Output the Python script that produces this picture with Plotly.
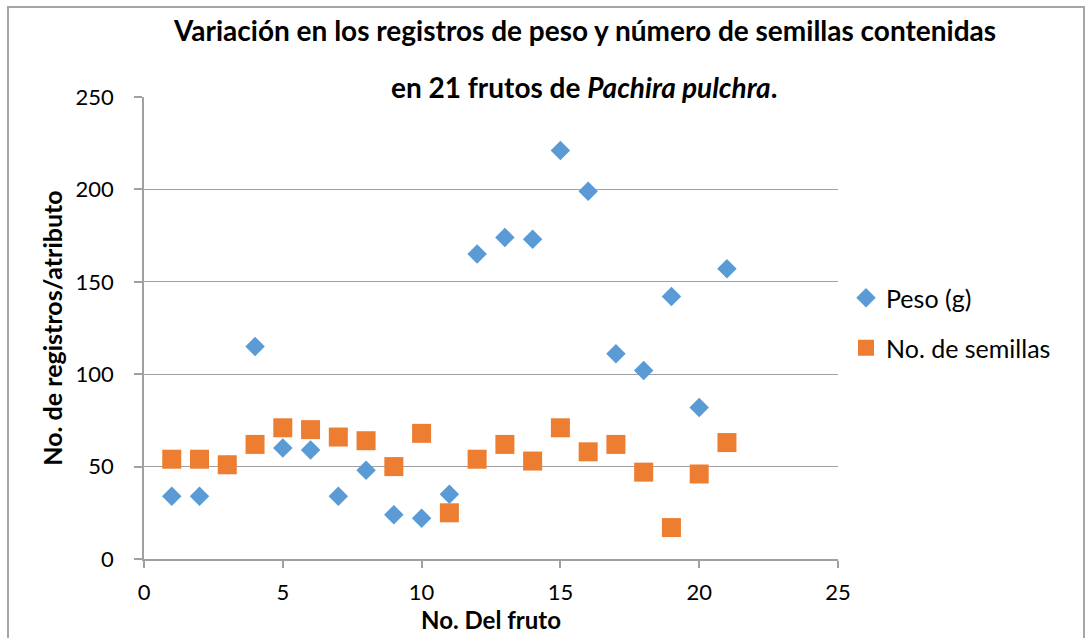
import plotly.graph_objects as go

fruto = list(range(1, 22))
peso = [34, 34, 51, 115, 60, 59, 34, 48, 24, 22, 35, 165, 174, 173, 221, 199, 111, 102, 142, 82, 157]
semillas = [54, 54, 51, 62, 71, 70, 66, 64, 50, 68, 25, 54, 62, 53, 71, 58, 62, 47, 17, 46, 63]

FONT = "Lato, Carlito, 'Open Sans', sans-serif"
W, H = 1086, 638
L, R, T, B = 144, 838, 97, 559
PW, PH = R - L, B - T

fig = go.Figure()
fig.add_trace(go.Scatter(x=fruto, y=peso, mode="markers", name="Peso (g)", legend="legend",
                         marker=dict(symbol="diamond", size=15, color="#5B9BD5")))
fig.add_trace(go.Scatter(x=fruto, y=semillas, mode="markers", name="No. de semillas", legend="legend2",
                         marker=dict(symbol="square", size=19, color="#ED7D31")))

def px_x(x):
    return (x - L) / PW

def px_y(y):
    return 1 - (y - T) / PH

leg_common = dict(xanchor="left", yanchor="middle", font=dict(size=25, color="black"),
                  bgcolor="rgba(0,0,0,0)", borderwidth=0, itemsizing="trace")

fig.update_layout(
    width=W, height=H,
    margin=dict(l=L, r=W - R, t=T, b=H - B, pad=0),
    paper_bgcolor="white", plot_bgcolor="white",
    font=dict(family=FONT, size=22, color="black"),
    showlegend=True,
    legend=dict(x=px_x(846), y=px_y(298), **leg_common),
    legend2=dict(x=px_x(846), y=px_y(348), **leg_common),
    xaxis=dict(range=[0, 25], tickvals=[0, 5, 10, 15, 20, 25], showgrid=False,
               showline=True, linecolor="#A0A0A0", linewidth=1.5,
               ticks="outside", ticklen=7, tickcolor="#A0A0A0", tickwidth=1.5,
               zeroline=False, tickfont=dict(size=22), ticklabelstandoff=6,
               title=dict(text="<b>No. Del fruto</b>", font=dict(size=24), standoff=2)),
    yaxis=dict(range=[0, 250], tickvals=[0, 50, 100, 150, 200, 250],
               showgrid=True, gridcolor="#A0A0A0", gridwidth=1.2,
               showline=True, linecolor="#A0A0A0", linewidth=1.5,
               ticks="outside", ticklen=8, tickcolor="#A0A0A0", tickwidth=1.5,
               zeroline=False, tickfont=dict(size=22), ticklabelstandoff=16,
               title=dict(text="<b>No. de registros/atributo</b>", font=dict(size=25), standoff=6)),
)

fig.add_annotation(text="<b>Variación en los registros de peso y número de semillas contenidas</b>",
                   xref="paper", yref="paper", x=px_x(584), y=px_y(30),
                   showarrow=False, font=dict(size=28), xanchor="center", yanchor="middle")
fig.add_annotation(text="<b>en 21 frutos de <i>Pachira pulchra</i>.</b>",
                   xref="paper", yref="paper", x=px_x(584), y=px_y(87),
                   showarrow=False, font=dict(size=28), xanchor="center", yanchor="middle")

fig.add_shape(type="rect", xref="paper", yref="paper",
              x0=px_x(8), x1=px_x(1084), y0=px_y(645), y1=px_y(7),
              line=dict(color="#A6A6A6", width=2), fillcolor="rgba(0,0,0,0)")

fig.write_html("out.html", config={"displayModeBar": False},
               post_script="document.body.style.margin='0';document.body.style.overflow='hidden';")
